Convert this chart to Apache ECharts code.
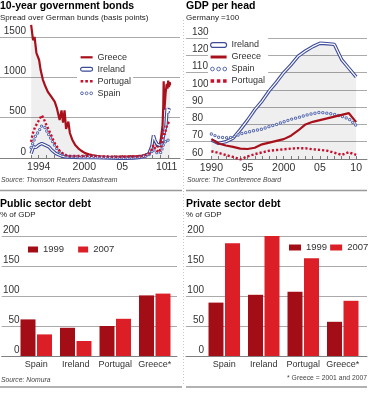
<!DOCTYPE html>
<html><head><meta charset="utf-8">
<script src="https://cdn.jsdelivr.net/npm/echarts@6/dist/echarts.min.js"></script>
<style>html,body{margin:0;padding:0;background:#fff}#c{width:370px;height:400px}</style>
</head><body><div id="c"></div>
<script>
// ---------- DATA ----------
// Bond spreads over German bunds (basis points), [year, value]
const greeceBond = [[1993.0,1650],[1993.25,1460],[1993.45,1500],[1993.7,1300],[1994.05,1215],[1994.25,1090],[1994.55,970],[1994.8,905],[1995.2,820],[1995.65,760],[1996.1,700],[1996.4,615],[1996.75,470],[1997.0,590],[1997.2,440],[1997.4,590],[1997.6,360],[1997.9,450],[1998.1,310],[1998.4,230],[1998.8,160],[1999.2,120],[1999.6,90],[2000.1,60],[2000.6,45],[2001.0,35],[2001.5,28],[2002.0,20],[2003.0,15],[2004.0,15],[2005.0,18],[2006.0,20],[2007.0,25],[2007.6,30],[2008.0,40],[2008.5,60],[2008.9,150],[2009.1,280],[2009.3,210],[2009.6,140],[2009.9,150],[2010.1,250],[2010.3,400],[2010.4,650],[2010.45,950],[2010.55,600],[2010.7,800],[2010.85,920],[2010.95,860],[2011.05,960],[2011.15,880],[2011.25,940],[2011.3,900]];
const irelandBond = [[1993.0,55],[1993.3,140],[1993.6,130],[1994.0,160],[1994.4,180],[1994.85,160],[1995.3,140],[1995.7,100],[1996.2,60],[1996.6,40],[1997.0,25],[1997.5,15],[1998.5,10],[1999.5,5],[2000.5,8],[2001.5,5],[2002.5,2],[2003.5,0],[2004.5,-3],[2005.5,-5],[2006.5,0],[2007.5,10],[2008.0,30],[2008.5,50],[2008.9,150],[2009.1,280],[2009.3,220],[2009.6,170],[2009.9,160],[2010.2,150],[2010.4,260],[2010.6,350],[2010.75,400],[2010.9,620],[2011.0,560],[2011.1,600],[2011.3,590]];
const portugalBond = [[1993.0,200],[1993.2,300],[1993.5,380],[1993.8,430],[1994.1,480],[1994.4,530],[1994.65,490],[1994.9,430],[1995.3,350],[1995.7,270],[1996.0,200],[1996.4,140],[1996.8,80],[1997.2,55],[1997.6,35],[1998.0,25],[1999.0,25],[2000.0,25],[2001.0,28],[2002.0,22],[2003.0,18],[2004.0,15],[2005.0,15],[2006.0,18],[2007.0,18],[2007.6,22],[2008.0,35],[2008.5,50],[2008.9,110],[2009.1,160],[2009.4,100],[2009.8,70],[2010.1,130],[2010.3,250],[2010.45,320],[2010.6,290],[2010.8,380],[2010.95,420],[2011.1,440],[2011.3,460]];
const spainBond = [[1993.0,130],[1993.3,200],[1993.6,280],[1994.0,330],[1994.4,400],[1994.8,380],[1995.2,310],[1995.6,240],[1996.0,170],[1996.5,100],[1997.0,55],[1997.5,30],[1998.0,20],[1999.0,15],[2000.0,15],[2001.0,20],[2002.0,10],[2003.0,5],[2004.0,3],[2005.0,2],[2006.0,3],[2007.0,5],[2007.6,10],[2008.0,20],[2008.5,40],[2008.9,80],[2009.1,110],[2009.4,70],[2009.8,60],[2010.1,70],[2010.35,150],[2010.5,180],[2010.7,160],[2010.9,230],[2011.0,250],[2011.15,210],[2011.3,200]];
const bondLabelYears = [1994, 2000, 2005, 2010];
const bondLabelText = ['1994', '2000', '05', '10'];
const bondLastLabelYear = 2011;
const bondLastLabelText = '11';
const bondTickYears = [1993,1994,1995,1996,1997,1998,1999,2000,2001,2002,2003,2004,2005,2006,2007,2008,2009,2010,2011];

// GDP per head, Germany = 100
const gdpYears = [1990,1991,1992,1993,1994,1995,1996,1997,1998,1999,2000,2001,2002,2003,2004,2005,2006,2007,2008,2009,2010];
const gdpIreland = [71,69,70,72,77,82.5,88.5,93.5,99.5,104.5,110,114.5,119.5,122.5,125,127,126.7,126.3,117.5,112.5,107.5];
const gdpGreece = [71.5,69,67.8,67,66,65.8,66.5,68.5,69.5,70.5,71.5,73.5,76.5,80,81.5,82.5,83.5,84.5,85.5,86.5,81.3];
const gdpSpain = [74.5,72.6,72.3,72.6,74.5,75.5,76.5,77.3,78.8,80,81.5,83,84,85.3,86.2,87,86.5,85.8,84.7,83.2,79.4];
const gdpPortugal = [64.5,63.5,62.3,61.2,59.8,61.5,62.8,63.8,64.8,65.2,65.6,66,66.3,66.2,65.6,65.3,64.8,63.6,62.4,63.9,62.4];
const gdpLabelYears = [1990, 1995, 2000, 2005, 2010];
const gdpLabelText = ['1990', '95', '2000', '05', '10'];

// Debt, % of GDP
const debtCats = ['Spain', 'Ireland', 'Portugal', 'Greece*'];
const public1999 = [61, 47, 50, 101];
const public2007 = [36, 25, 62, 104];
const private1999 = [89, 102, 107, 57];
const private2007 = [188, 200, 163, 92];

// ---------- STYLE ----------
const FONT = '"Liberation Sans", Arial, sans-serif';
const C_GREECE = '#a8111c', C_IRE = '#3d4b99', C_SPAIN = '#5a6cb0', C_PORT = '#c8102e';
const C_99 = '#a30e16', C_07 = '#dc1e26';
const GRID = '#aaaaaa', AXIS = '#808080', TXT = '#333';

const chart = echarts.init(document.getElementById('c'), null, {renderer: 'canvas'});

const titleStyle = {fontSize: 10.5, fontWeight: 'bold', color: '#000', fontFamily: FONT};
const subStyle = {fontSize: 8, color: '#222', fontFamily: FONT};
const srcStyle = {fontSize: 6.8, fontStyle: 'italic', fontWeight: 'normal', color: '#444', fontFamily: FONT};

const ICON_GREECE = 'path://M0,0H13V2.4H0Z';
const ICON_IRE = 'path://M2,0H11A2,2,0,0,1,11,4H2A2,2,0,0,1,2,0Z';
const ICON_PORT = 'path://M0,0H2.6V2.6H0Z M4.6,0H7.2V2.6H4.6Z M9.2,0H11.8V2.6H9.2Z';
const ICON_SPAIN = 'path://M0,1.5A1.5,1.5,0,1,0,3,1.5A1.5,1.5,0,1,0,0,1.5Z M5,1.5A1.5,1.5,0,1,0,8,1.5A1.5,1.5,0,1,0,5,1.5Z M10,1.5A1.5,1.5,0,1,0,13,1.5A1.5,1.5,0,1,0,10,1.5Z';
const legItems = {
  Greece: {name: 'Greece', icon: ICON_GREECE, itemStyle: {color: C_GREECE, borderWidth: 0}},
  Ireland: {name: 'Ireland', icon: ICON_IRE, itemStyle: {color: '#fff', borderColor: C_IRE, borderWidth: 1.2}},
  Portugal: {name: 'Portugal', icon: ICON_PORT, itemStyle: {color: C_PORT, borderWidth: 0}},
  Spain: {name: 'Spain', icon: ICON_SPAIN, itemStyle: {color: '#fff', borderColor: C_SPAIN, borderWidth: 1}}
};

function yLabel(align, margin) {
  return {inside: true, align: align, margin: margin, verticalAlign: 'bottom', padding: [0, 0, 1, 0],
          fontSize: 10, color: TXT, fontFamily: FONT, formatter: v => String(v)};
}

function lines(name, data, xi, kind, extra) {
  const base = {type: 'line', xAxisIndex: xi, yAxisIndex: xi, data: data, showSymbol: false,
                symbol: 'none', clip: false, silent: true};
  const out = [];
  if (kind === 'solid') {
    out.push(Object.assign({}, base, {name: name, lineStyle: {color: C_GREECE, width: 2.2}}, extra || {}));
  } else if (kind === 'double') {
    out.push(Object.assign({}, base, {name: name, lineStyle: {color: C_IRE, width: 3.4}}));
    out.push(Object.assign({}, base, {name: name + ' inner', lineStyle: {color: '#fff', width: 1.2}}));
  } else if (kind === 'circles') {
    out.push(Object.assign({}, base, {name: name, lineStyle: {color: C_SPAIN, width: 3.4, type: [0, 4], cap: 'round'}}));
    out.push(Object.assign({}, base, {name: name + ' inner', lineStyle: {color: '#fff', width: 1.4, type: [0, 4], cap: 'round'}}));
  } else {
    out.push(Object.assign({}, base, {name: name, lineStyle: {color: C_PORT, width: 2.4, type: [2.2, 2]}}));
  }
  return out;
}

const pair = (xs, ys) => xs.map((x, i) => [x, ys[i]]);

const option = {
  animation: false,
  backgroundColor: '#fff',
  textStyle: {fontFamily: FONT},
  title: [
    {text: '10-year government bonds', subtext: 'Spread over German bunds (basis points)', left: 0, top: 0.5, padding: 0, itemGap: 2.5, textStyle: titleStyle, subtextStyle: subStyle},
    {text: 'GDP per head', subtext: 'Germany =100', left: 186, top: 0.5, padding: 0, itemGap: 2.5, textStyle: titleStyle, subtextStyle: subStyle},
    {text: 'Public sector debt', subtext: '% of GDP', left: 0, top: 198.5, padding: 0, itemGap: 1, textStyle: titleStyle, subtextStyle: subStyle},
    {text: 'Private sector debt', subtext: '% of GDP', left: 186, top: 198.5, padding: 0, itemGap: 1, textStyle: titleStyle, subtextStyle: subStyle},
    {text: 'Source: Thomson Reuters Datastream', left: 1, top: 177, padding: 0, textStyle: srcStyle},
    {text: 'Source: The Conference Board', left: 187, top: 177, padding: 0, textStyle: srcStyle},
    {text: 'Source: Nomura', left: 1, top: 376.5, padding: 0, textStyle: srcStyle},
    {text: '* Greece = 2001 and 2007', right: 3, top: 374.5, padding: 0, textStyle: Object.assign({}, srcStyle, {fontStyle: 'normal'})}
  ],
  legend: [
    {orient: 'vertical', left: 77, top: 48.3, padding: [3, 2, 3, 3], itemGap: 0, itemWidth: 12, itemHeight: 5,
     backgroundColor: '#fff', selectedMode: false,
     textStyle: {fontSize: 9, lineHeight: 12, color: TXT, fontFamily: FONT},
     data: [legItems.Greece, legItems.Ireland, legItems.Portugal, legItems.Spain]},
    {orient: 'vertical', left: 208, top: 36, padding: [3, 3, 3, 2], itemGap: 0, itemWidth: 16, itemHeight: 5,
     backgroundColor: '#fff', selectedMode: false,
     textStyle: {fontSize: 9, lineHeight: 12, color: TXT, fontFamily: FONT},
     data: [legItems.Ireland, legItems.Greece, legItems.Spain, legItems.Portugal]},
    {orient: 'horizontal', left: 28, top: 244, padding: 0, itemGap: 14, itemWidth: 10, itemHeight: 6, icon: 'rect',
     selectedMode: false, textStyle: {fontSize: 9.5, lineHeight: 11, color: TXT, fontFamily: FONT},
     data: ['1999', '2007']},
    {orient: 'horizontal', left: 289, top: 242, padding: 0, itemGap: 3, itemWidth: 12, itemHeight: 6, icon: 'rect',
     selectedMode: false, textStyle: {fontSize: 9.5, lineHeight: 11, color: TXT, fontFamily: FONT},
     data: ['1999', '2007']}
  ],
  grid: [
    {left: 0, top: 37, width: 180, height: 121},
    {left: 186, top: 38, width: 181, height: 121},
    {left: 0, top: 236, width: 177, height: 120},
    {left: 16.5, top: 236, width: 158, height: 120},
    {left: 186, top: 236, width: 181, height: 120},
    {left: 204.5, top: 236, width: 158, height: 120}
  ],
  xAxis: [
    {gridIndex: 0, type: 'value', min: 1988.9, max: 2012.6,
     axisLine: {show: true, lineStyle: {color: AXIS, width: 1}},
     axisTick: {show: true, inside: true, length: 3, customValues: bondTickYears, lineStyle: {color: AXIS}},
     splitLine: {show: false},
     axisLabel: {customValues: bondLabelYears, margin: 4, fontSize: 10.5, color: TXT, fontFamily: FONT,
       hideOverlap: false,
       formatter: v => {
         const t = bondLabelText[bondLabelYears.indexOf(v)];
         return v === 2010 ? '{a|' + t + '}' : t;
       },
       rich: {a: {padding: [0, 0, 0, 3], fontSize: 10.5, color: TXT}}}},
    {gridIndex: 1, type: 'value', min: 1986.5, max: 2011.5,
     axisLine: {show: true, lineStyle: {color: AXIS, width: 1}},
     axisTick: {show: true, inside: true, length: 3, customValues: gdpYears, lineStyle: {color: AXIS}},
     splitLine: {show: false},
     axisLabel: {customValues: gdpLabelYears, margin: 4, fontSize: 10.5, color: TXT, fontFamily: FONT,
       hideOverlap: false, showMinLabel: true, showMaxLabel: true,
       formatter: v => gdpLabelText[gdpLabelYears.indexOf(v)]}},
    {gridIndex: 2, type: 'value', min: 0, max: 1, axisLine: {show: true, lineStyle: {color: AXIS}},
     axisTick: {show: false}, axisLabel: {show: false}, splitLine: {show: false}},
    {gridIndex: 3, type: 'category', data: debtCats, axisLine: {show: false}, axisTick: {show: false},
     axisLabel: {interval: 0, hideOverlap: false, margin: 4, fontSize: 9, color: TXT, fontFamily: FONT}},
    {gridIndex: 4, type: 'value', min: 0, max: 1, axisLine: {show: true, lineStyle: {color: AXIS}},
     axisTick: {show: false}, axisLabel: {show: false}, splitLine: {show: false}},
    {gridIndex: 5, type: 'category', data: debtCats, axisLine: {show: false}, axisTick: {show: false},
     axisLabel: {interval: 0, hideOverlap: false, margin: 4, fontSize: 9, color: TXT, fontFamily: FONT}},
    // secondary label-only axis for the bonds chart's final "11" label
    {gridIndex: 0, type: 'value', position: 'bottom', min: 1988.9, max: 2012.6,
     axisLine: {show: false}, axisTick: {show: false}, splitLine: {show: false},
     axisLabel: {customValues: [bondLastLabelYear], margin: 4, fontSize: 10.5, color: TXT, fontFamily: FONT,
       formatter: () => '{b|' + bondLastLabelText + '}',
       rich: {b: {padding: [0, 0, 0, 8], fontSize: 10.5, color: TXT}}}}
  ],
  yAxis: [
    {gridIndex: 0, type: 'value', min: 0, max: 1500, interval: 500, axisLine: {show: false}, axisTick: {show: false},
     splitLine: {lineStyle: {color: GRID, width: 1}}, axisLabel: yLabel('right', 26)},
    {gridIndex: 1, type: 'value', min: 60, max: 130, interval: 10, axisLine: {show: false}, axisTick: {show: false},
     splitLine: {lineStyle: {color: GRID, width: 1}}, axisLabel: yLabel('left', 6)},
    {gridIndex: 2, type: 'value', min: 0, max: 200, interval: 50, axisLine: {show: false}, axisTick: {show: false},
     splitLine: {lineStyle: {color: GRID, width: 1}}, axisLabel: yLabel('right', 18)},
    {gridIndex: 3, type: 'value', min: 0, max: 200, show: false},
    {gridIndex: 4, type: 'value', min: 0, max: 200, interval: 50, axisLine: {show: false}, axisTick: {show: false},
     splitLine: {lineStyle: {color: GRID, width: 1}}, axisLabel: yLabel('right', 18)},
    {gridIndex: 5, type: 'value', min: 0, max: 200, show: false}
  ],
  series: [].concat(
    lines('Greece', greeceBond, 0, 'solid', {areaStyle: {color: 'rgba(0,0,0,0.09)', origin: 'start'}}),
    lines('Ireland', irelandBond, 0, 'double'),
    lines('Spain', spainBond, 0, 'circles'),
    lines('Portugal', portugalBond, 0, 'dots'),
    lines('Ireland', pair(gdpYears, gdpIreland), 1, 'double').map((s, i) => i === 0 ? Object.assign(s, {areaStyle: {color: 'rgba(0,0,0,0.09)', origin: 'start'}}) : s),
    lines('Spain', pair(gdpYears, gdpSpain), 1, 'circles'),
    lines('Greece', pair(gdpYears, gdpGreece), 1, 'solid'),
    lines('Portugal', pair(gdpYears, gdpPortugal), 1, 'dots'),
    [
      {name: '1999', type: 'bar', xAxisIndex: 3, yAxisIndex: 3, data: public1999, barWidth: 15, barGap: '10%', itemStyle: {color: C_99}, silent: true},
      {name: '2007', type: 'bar', xAxisIndex: 3, yAxisIndex: 3, data: public2007, barWidth: 15, barGap: '10%', itemStyle: {color: C_07}, silent: true},
      {name: '1999', type: 'bar', xAxisIndex: 5, yAxisIndex: 5, data: private1999, barWidth: 15, barGap: '10%', itemStyle: {color: C_99}, silent: true},
      {name: '2007', type: 'bar', xAxisIndex: 5, yAxisIndex: 5, data: private2007, barWidth: 15, barGap: '10%', itemStyle: {color: C_07}, silent: true}
    ]
  ),
  graphic: [
    {type: 'line', silent: true, shape: {x1: 0, y1: 190.5, x2: 182, y2: 190.5}, style: {stroke: '#999', lineWidth: 1.5}},
    {type: 'line', silent: true, shape: {x1: 186, y1: 190.5, x2: 367, y2: 190.5}, style: {stroke: '#999', lineWidth: 1.5}},
    {type: 'line', silent: true, shape: {x1: 0, y1: 387, x2: 182, y2: 387}, style: {stroke: '#999', lineWidth: 1.5}},
    {type: 'line', silent: true, shape: {x1: 186, y1: 387, x2: 367, y2: 387}, style: {stroke: '#999', lineWidth: 1.5}},
    {type: 'line', silent: true, shape: {x1: 183.5, y1: 20, x2: 183.5, y2: 386}, style: {stroke: '#c8c8c8', lineWidth: 1, lineDash: [1, 2]}}
  ]
};
chart.setOption(option);
</script></body></html>
